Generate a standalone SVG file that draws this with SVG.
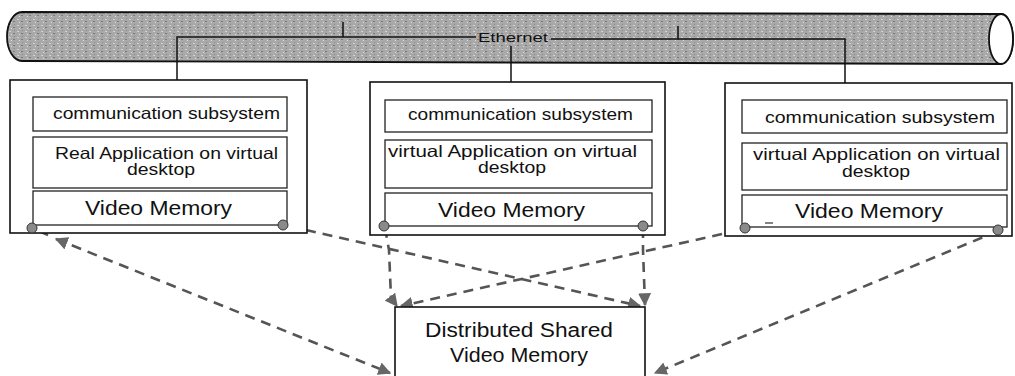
<svg xmlns="http://www.w3.org/2000/svg" width="1015" height="376" viewBox="0 0 1015 376">
<style>
  text { font-family: "Liberation Sans", Arial, sans-serif; fill: #111; }
  .outer { fill: #fff; stroke: #111; stroke-width: 1.6; }
  .inner { fill: #fff; stroke: #222; stroke-width: 1.3; }
  .sm { font-size: 16.5px; }
  .lg { font-size: 19.5px; }
  .net { fill: none; stroke: #111; stroke-width: 1.5; }
  .dash { fill: none; stroke: #555; stroke-width: 2.6; stroke-dasharray: 10 7; }
  .solid { fill: none; stroke: #555; stroke-width: 2.6; }
  .dot { fill: #8a8a8a; stroke: #333; stroke-width: 1; }
</style>
<defs>
  <pattern id="noise" width="8" height="6" patternUnits="userSpaceOnUse">
    <rect width="8" height="6" fill="#a9a9a9"/>
    <rect x="1" y="1" width="2" height="1" fill="#d0d0d0"/>
    <rect x="5" y="3" width="2" height="1" fill="#7a7a7a"/>
    <rect x="3" y="4" width="1" height="1" fill="#e0e0e0"/>
    <rect x="6" y="0" width="1" height="1" fill="#888"/>
  </pattern>
  <marker id="arr" viewBox="0 0 10 10" refX="9" refY="5" markerWidth="5" markerHeight="5" orient="auto-start-reverse">
    <path d="M0,0 L10,5 L0,10 z" fill="#666"/>
  </marker>
</defs>

<g id="ethernet">
  <path d="M22,12 L1001,14 A12,25 0 0 1 1001,64 L22,61 A15,24.5 0 0 1 22,12 Z" fill="url(#noise)" stroke="#111" stroke-width="1.8"/>
  <ellipse cx="1001" cy="39" rx="12" ry="25" fill="#fff" stroke="#111" stroke-width="1.8"/>
  <text x="478" y="42" font-size="12" textLength="70" lengthAdjust="spacingAndGlyphs">Ethernet</text>
</g>

<g id="connectors">
  <path class="net" d="M177,80 L177,37 L476,37"/>
  <path class="net" d="M343,22 L343,37"/>
  <path class="net" d="M551,39 L845,39 L845,83"/>
  <path class="net" d="M678,26 L678,39"/>
  <path class="net" d="M511,46 L511,82"/>
  <path class="solid" d="M32,228 L48,235"/>
  <path class="dash" d="M56,239 L390,373" marker-start="url(#arr)" marker-end="url(#arr)"/>
  <path class="solid" d="M283,225 L300,229"/>
  <path class="dash" d="M306,230 L640,306" marker-end="url(#arr)"/>
  <path class="dash" d="M385,228 L389,250 L391,298 L397,306" marker-end="url(#arr)"/>
  <path class="dash" d="M643,228 L643,250 L645,305" marker-end="url(#arr)"/>
  <path class="solid" d="M745,228 L728,233"/>
  <path class="dash" d="M722,234 L401,306" marker-end="url(#arr)"/>
  <path class="dash" d="M998,231 L655,373" marker-end="url(#arr)"/>
</g>

<g id="node-left">
  <rect class="outer" x="10" y="80" width="297" height="153"/>
  <rect class="inner" x="33" y="97" width="254" height="34"/>
  <text class="sm" x="53" y="119" textLength="227" lengthAdjust="spacingAndGlyphs">communication subsystem</text>
  <rect class="inner" x="33" y="137" width="254" height="51"/>
  <text class="sm" x="55" y="159" textLength="223" lengthAdjust="spacingAndGlyphs">Real Application on virtual</text>
  <text class="sm" x="127" y="175" textLength="68" lengthAdjust="spacingAndGlyphs">desktop</text>
  <rect class="inner" x="33" y="191" width="254" height="34"/>
  <text class="lg" x="85" y="215" textLength="147" lengthAdjust="spacingAndGlyphs">Video Memory</text>
  <circle class="dot" cx="32" cy="228" r="5"/>
  <circle class="dot" cx="283" cy="225" r="5"/>
</g>

<g id="node-middle">
  <rect class="outer" x="370" y="82" width="295" height="153"/>
  <rect class="inner" x="385" y="100" width="267" height="32"/>
  <text class="sm" x="408" y="120" textLength="225" lengthAdjust="spacingAndGlyphs">communication subsystem</text>
  <rect class="inner" x="385" y="140" width="267" height="48"/>
  <text class="sm" x="388" y="157" textLength="249" lengthAdjust="spacingAndGlyphs">virtual Application on virtual</text>
  <text class="sm" x="478" y="173" textLength="68" lengthAdjust="spacingAndGlyphs">desktop</text>
  <rect class="inner" x="385" y="193" width="267" height="33"/>
  <text class="lg" x="438" y="217" textLength="147" lengthAdjust="spacingAndGlyphs">Video Memory</text>
  <circle class="dot" cx="384" cy="226" r="5"/>
  <circle class="dot" cx="643" cy="226" r="5"/>
</g>

<g id="node-right">
  <rect class="outer" x="725" y="83" width="287" height="153"/>
  <rect class="inner" x="742" y="100" width="265" height="33"/>
  <text class="sm" x="765" y="123" textLength="230" lengthAdjust="spacingAndGlyphs">communication subsystem</text>
  <rect class="inner" x="742" y="143" width="265" height="47"/>
  <text class="sm" x="753" y="160" textLength="247" lengthAdjust="spacingAndGlyphs">virtual Application on virtual</text>
  <text class="sm" x="842" y="177" textLength="68" lengthAdjust="spacingAndGlyphs">desktop</text>
  <rect class="inner" x="742" y="195" width="265" height="32"/>
  <text class="lg" x="795" y="218" textLength="148" lengthAdjust="spacingAndGlyphs">Video Memory</text>
  <path d="M765,223 L773,223" stroke="#333" stroke-width="1.2"/>
  <circle class="dot" cx="745" cy="228" r="5"/>
  <circle class="dot" cx="998" cy="230" r="5"/>
</g>

<g id="node-dsvm">
  <rect class="outer" x="395" y="307" width="250" height="90"/>
  <text class="lg" x="425" y="337" textLength="188" lengthAdjust="spacingAndGlyphs">Distributed Shared</text>
  <text class="lg" x="450" y="362" textLength="138" lengthAdjust="spacingAndGlyphs">Video Memory</text>
</g>
</svg>
